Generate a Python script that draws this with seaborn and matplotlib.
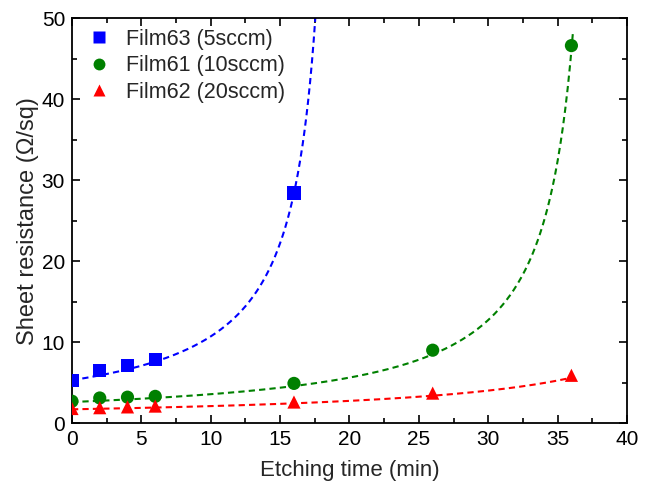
import numpy as np
import pandas as pd
import matplotlib
matplotlib.use("Agg")
import matplotlib.pyplot as plt
from matplotlib.ticker import MultipleLocator
import seaborn as sns

sns.set_theme(style="ticks")
plt.rcParams['font.family'] = ['Liberation Sans', 'DejaVu Sans']

labels = ["Film63 (5sccm)", "Film61 (10sccm)", "Film62 (20sccm)"]
colors = ["#0000FF", "#008000", "#FF0000"]
markers = ["s", "o", "^"]

t63 = [0, 2, 4, 6, 16]
r63 = [5.3, 6.5, 7.1, 7.8, 28.4]
t61 = [0, 2, 4, 6, 16, 26, 36]
r61 = [2.7, 3.1, 3.2, 3.3, 4.9, 9.0, 46.6]
t62 = [0, 2, 4, 6, 16, 26, 36]
r62 = [1.8, 1.9, 2.0, 2.1, 2.6, 3.7, 5.9]

# fit parameters R = a * (x0 / (x0 - t))**n, drawn over [0, tmax]
fit_a = [5.3, 2.6, 1.7]
fit_x0 = [19.5, 38.5, 50.0]
fit_n = [0.977, 1.051, 0.937]
fit_tmax = [17.6, 36.1, 36.0]

frames = []
for lab, t, r in [(labels[0], t63, r63), (labels[1], t61, r61), (labels[2], t62, r62)]:
    frames.append(pd.DataFrame({"t": t, "R": r, "film": lab}))
pts = pd.DataFrame(pd.concat(frames, ignore_index=True))

fig = plt.figure(figsize=(6.51, 4.88), dpi=100)
ax = fig.add_axes([0.1106, 0.133, 0.8524, 0.830])

for i, lab in enumerate(labels):
    tt = np.linspace(0, fit_tmax[i], 400)
    rr = fit_a[i] * (fit_x0[i] / (fit_x0[i] - tt)) ** fit_n[i]
    fdf = pd.DataFrame({"t": tt, "R": rr})
    sns.lineplot(data=fdf, x="t", y="R", ax=ax, color=colors[i], lw=1.5,
                 linestyle=(0, (3, 2)), sort=False)

sns.scatterplot(data=pts, x="t", y="R", hue="film", style="film",
                palette=dict(zip(labels, colors)), markers=dict(zip(labels, markers)),
                s=90, edgecolor="none", ax=ax, zorder=5)

ax.set_xlim(0, 40)
ax.set_ylim(0, 50)
ax.xaxis.set_major_locator(MultipleLocator(5))
ax.xaxis.set_minor_locator(MultipleLocator(2.5))
ax.yaxis.set_major_locator(MultipleLocator(10))
ax.yaxis.set_minor_locator(MultipleLocator(5))
ax.tick_params(which="both", direction="in", top=True, right=True, labelsize=15, colors="black")
ax.tick_params(axis="x", which="major", pad=5)
ax.tick_params(axis="y", which="major", pad=5)
ax.tick_params(which="major", length=6, width=1.2)
ax.tick_params(which="minor", length=3.5, width=1.2)
for s in ax.spines.values():
    s.set_linewidth(1.3)
    s.set_color("black")
ax.set_xlabel("Etching time (min)", fontsize=16, labelpad=8)
ax.set_ylabel("Sheet resistance (Ω/sq)", fontsize=17, labelpad=2)

leg = ax.legend(loc="upper left", frameon=False, fontsize=15.5, handletextpad=0.5,
                borderaxespad=0.1, labelspacing=0.25, handlelength=1.5, markerscale=0.9)

fig.savefig("out.png", dpi=100)
